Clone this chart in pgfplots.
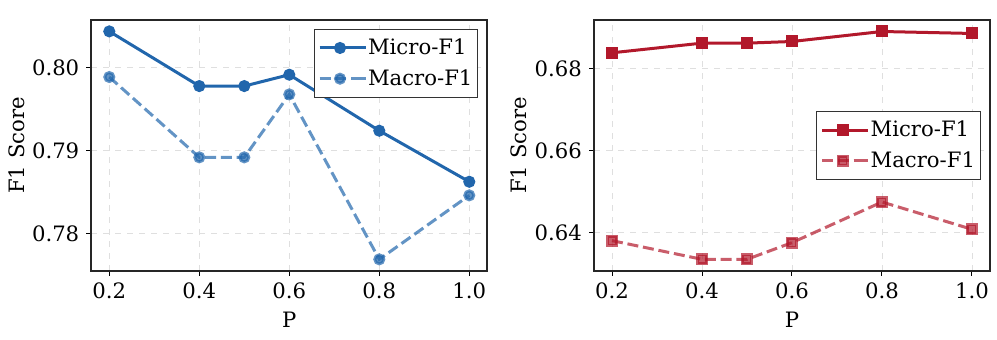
\documentclass[border=0pt]{standalone}
\usepackage{fontspec}
\setmainfont{DejaVu Serif}
\usepackage{pgfplots}
\pgfplotsset{compat=1.18}
\definecolor{microblue}{HTML}{2166AC}
\definecolor{microred}{HTML}{B2182B}

\pgfplotsset{
  panel/.style={
    scale only axis, width=198pt, height=125.3pt,
    xmin=0.16, xmax=1.04,
    xtick={0.2,0.4,0.6,0.8,1.0},
    xticklabel style={/pgf/number format/.cd, fixed, fixed zerofill, precision=1},
    yticklabel style={/pgf/number format/.cd, fixed, fixed zerofill, precision=2},
    /pgf/number format/assume math mode=true,
    scaled ticks=false,
    tick align=outside, major tick length=2.5pt,
    tick style={black, line width=0.5pt},
    axis line style={line width=0.8pt, black!85},
    xtick pos=bottom, ytick pos=left,
    grid=major, grid style={dashed, gray!25, line width=0.4pt},
    font=\fontsize{10.6}{12}\selectfont,
    xlabel={P}, ylabel={F1 Score},
    every axis x label/.style={at={(axis description cs:0.5,0)}, anchor=center, yshift=-24.6pt},
    every axis y label/.style={at={(axis description cs:0,0.5)}, anchor=center, xshift=-37.5pt, rotate=90},
    legend cell align=left,
    legend style={draw=black!80, line width=0.5pt, fill=white,
      font=\fontsize{10.6}{12}\selectfont, inner xsep=2pt, inner ysep=2pt,
      nodes={inner xsep=0.5pt, inner ysep=2.5pt}, row sep=1pt},
    legend image code/.code={
      \draw[mark repeat=2, mark phase=2, #1] plot coordinates {(0cm,0cm) (0.36cm,0cm) (0.72cm,0cm)};
      \path (0.72cm,0cm) -- ++(2.5pt,0pt);
    },
  },
  micro/.style={line width=1.5pt, mark size=2.25pt, mark options={solid}},
  macro/.style={line width=1.5pt, dash pattern=on 5.5pt off 2.4pt, opacity=0.7, mark size=2.25pt, mark options={solid}},
}

\begin{document}
\begin{tikzpicture}
\path (-45.65pt,-34.15pt) rectangle (452.85pt,135.35pt);

\begin{axis}[panel, at={(0pt,0pt)},
  ymin=0.77550, ymax=0.80570, ytick={0.78,0.79,0.80},
  legend style={at={(1,1)}, anchor=north east, xshift=-4.65pt, yshift=-4.5pt}]
\addplot[micro, color=microblue, mark=*] coordinates {
  (0.2,0.80434) (0.4,0.79775) (0.5,0.79775) (0.6,0.79912) (0.8,0.79237) (1.0,0.78622)};
\addplot[macro, color=microblue, mark=*] coordinates {
  (0.2,0.79884) (0.4,0.78916) (0.5,0.78916) (0.6,0.79675) (0.8,0.77687) (1.0,0.78458)};
\legend{Micro-F1, Macro-F1}
\end{axis}

\begin{axis}[panel, at={(251.35pt,0pt)},
  ymin=0.63063, ymax=0.69180, ytick={0.64,0.66,0.68},
  legend style={at={(1,0.5)}, anchor=east, xshift=-4.7pt}]
\addplot[micro, color=microred, mark=square*] coordinates {
  (0.2,0.68382) (0.4,0.68618) (0.5,0.68618) (0.6,0.68658) (0.8,0.68902) (1.0,0.68854)};
\addplot[macro, color=microred, mark=square*] coordinates {
  (0.2,0.63797) (0.4,0.63341) (0.5,0.63341) (0.6,0.63748) (0.8,0.64740) (1.0,0.64073)};
\legend{Micro-F1, Macro-F1}
\end{axis}
\end{tikzpicture}
\end{document}
